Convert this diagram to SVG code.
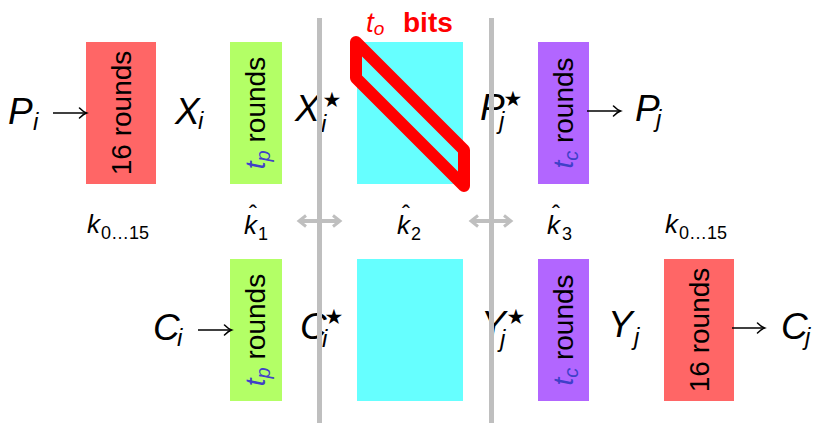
<svg xmlns="http://www.w3.org/2000/svg" width="813" height="423" viewBox="0 0 813 423">
<style>
.bg{fill:#ffffff}
.red{fill:#ff6666}
.grn{fill:#b3ff66}
.cya{fill:#66ffff}
.pur{fill:#b266ff}
.m{font-family:"Liberation Sans",Arial,sans-serif;font-style:italic;font-size:37px;fill:#000}
.s{font-family:"Liberation Sans",Arial,sans-serif;font-style:italic;font-size:24px;fill:#000}
.star{font-family:"DejaVu Sans",sans-serif;font-style:normal;font-size:21px;fill:#000;text-anchor:middle}
.rt{font-family:"Liberation Sans",Arial,sans-serif;font-size:28px;fill:#000;text-anchor:middle}
.bl{fill:#4040c8;font-style:italic}
.k{font-family:"Liberation Sans",Arial,sans-serif;font-style:italic;font-size:26px;fill:#000}
.ks{font-family:"Liberation Sans",Arial,sans-serif;font-style:normal;font-size:18px;fill:#000}
.hat{font-style:normal;font-size:24px;text-anchor:middle}
.sep{stroke:#bfbfbf;stroke-width:5;fill:none}
.arr{stroke:#000;stroke-width:1.6;fill:none}
.garr{stroke:#bfbfbf;stroke-width:4;fill:none}
.hl{stroke:#ff0000;stroke-width:12;fill:none;stroke-linejoin:round}
.lbl{font-family:"Liberation Sans",Arial,sans-serif;fill:#ff0000}
</style>
<defs>
<marker id="ah" markerUnits="userSpaceOnUse" markerWidth="12" markerHeight="12" viewBox="-8 -6 10 12" refX="0" refY="0" orient="auto">
<path d="M -7,-5 Q -3,-1 0,0 Q -3,1 -7,5" stroke="#000" stroke-width="1.5" fill="none" stroke-linecap="round"/>
</marker>
<marker id="gh" markerUnits="userSpaceOnUse" markerWidth="14" markerHeight="14" viewBox="-9 -7 11 14" refX="0" refY="0" orient="auto-start-reverse">
<path d="M -7,-5.5 L 0,0 L -7,5.5" stroke="#bfbfbf" stroke-width="3" fill="none" stroke-linejoin="miter"/>
</marker>
</defs>
<rect class="bg" x="0" y="0" width="813" height="423"/>

<g id="enc16-top">
<rect class="red" x="86" y="42" width="70" height="142"/>
<text class="rt" transform="translate(130.5,113) rotate(-90)">16 rounds</text>
</g>
<g id="tp-top">
<rect class="grn" x="230" y="42" width="52" height="142"/>
<text class="rt" transform="translate(265,113) rotate(-90)"><tspan class="bl">t</tspan><tspan class="bl" font-size="20" dy="5">p</tspan><tspan dy="-5"> rounds</tspan></text>
</g>
<g id="mid-top">
<rect class="cya" x="357" y="42" width="106" height="142"/>
</g>
<g id="tc-top">
<rect class="pur" x="538" y="42" width="51" height="142"/>
<text class="rt" transform="translate(572.5,113) rotate(-90)"><tspan class="bl">t</tspan><tspan class="bl" font-size="20" dy="5">c</tspan><tspan dy="-5"> rounds</tspan></text>
</g>
<g id="tp-bot">
<rect class="grn" x="230" y="259" width="52" height="142"/>
<text class="rt" transform="translate(265,330) rotate(-90)"><tspan class="bl">t</tspan><tspan class="bl" font-size="20" dy="5">p</tspan><tspan dy="-5"> rounds</tspan></text>
</g>
<g id="mid-bot">
<rect class="cya" x="357" y="259" width="106" height="142"/>
</g>
<g id="tc-bot">
<rect class="pur" x="538" y="259" width="51" height="142"/>
<text class="rt" transform="translate(572.5,330) rotate(-90)"><tspan class="bl">t</tspan><tspan class="bl" font-size="20" dy="5">c</tspan><tspan dy="-5"> rounds</tspan></text>
</g>
<g id="enc16-bot">
<rect class="red" x="664" y="259" width="70" height="142"/>
<text class="rt" transform="translate(708.5,330) rotate(-90)">16 rounds</text>
</g>

<g id="label-Pi"><text class="m" x="8" y="124">P<tspan class="s" x="33" y="130">i</tspan></text></g>
<g id="label-Xi"><text class="m" x="175" y="124">X<tspan class="s" x="198" y="129">i</tspan></text></g>
<g id="label-Xistar"><text class="m" x="295" y="121">X<tspan class="s" x="321" y="132">i</tspan><tspan class="star" x="332" y="107">★</tspan></text></g>
<g id="label-Pjstar"><text class="m" x="480" y="120">P<tspan class="s" x="499" y="129">j</tspan><tspan class="star" x="513" y="106">★</tspan></text></g>
<g id="label-Pj"><text class="m" x="635" y="121">P<tspan class="s" x="656" y="127">j</tspan></text></g>
<g id="label-Ci"><text class="m" x="153" y="340">C<tspan class="s" x="177" y="346">i</tspan></text></g>
<g id="label-Cistar"><text class="m" x="300" y="339">C<tspan class="s" x="322" y="347">i</tspan><tspan class="star" x="334" y="324">★</tspan></text></g>
<g id="label-Yjstar"><text class="m" x="481" y="337">Y<tspan class="s" x="500" y="347">j</tspan><tspan class="star" x="516" y="324">★</tspan></text></g>
<g id="label-Yj"><text class="m" x="608" y="337">Y<tspan class="s" x="634" y="345">j</tspan></text></g>
<g id="label-Cj"><text class="m" x="781" y="339">C<tspan class="s" x="805" y="345">j</tspan></text></g>

<g id="key-k015-left"><text class="k" x="87" y="233">k<tspan class="ks" x="101" y="239">0…15</tspan></text></g>
<g id="key-k1"><text class="k" x="244" y="234">k<tspan class="ks" x="258" y="240">1</tspan><tspan class="hat" x="253" y="222">ˆ</tspan></text></g>
<g id="key-k2"><text class="k" x="397" y="234">k<tspan class="ks" x="411" y="240">2</tspan><tspan class="hat" x="406" y="222">ˆ</tspan></text></g>
<g id="key-k3"><text class="k" x="547" y="234">k<tspan class="ks" x="562" y="240">3</tspan><tspan class="hat" x="556" y="222">ˆ</tspan></text></g>
<g id="key-k015-right"><text class="k" x="665" y="233">k<tspan class="ks" x="679" y="239">0…15</tspan></text></g>

<g id="separators">
<line class="sep" x1="319.5" y1="18" x2="319.5" y2="423"/>
<line class="sep" x1="491.5" y1="18" x2="491.5" y2="423"/>
</g>

<g id="connectors">
<line class="arr" x1="53" y1="113" x2="86.5" y2="113" marker-end="url(#ah)"/>
<line class="arr" x1="587" y1="111" x2="620.5" y2="111" marker-end="url(#ah)"/>
<line class="arr" x1="198" y1="330" x2="231.5" y2="330" marker-end="url(#ah)"/>
<line class="arr" x1="732" y1="328" x2="764.5" y2="328" marker-end="url(#ah)"/>
<line class="garr" x1="299" y1="221" x2="340" y2="221" marker-start="url(#gh)" marker-end="url(#gh)"/>
<line class="garr" x1="471" y1="221" x2="511" y2="221" marker-start="url(#gh)" marker-end="url(#gh)"/>
</g>

<g id="highlight">
<polygon class="hl" points="356,42 464,150 464,186 356,78"/>
<text class="lbl" x="366" y="32" font-size="28"><tspan font-style="italic">t</tspan><tspan font-style="italic" font-size="19" dy="3">o</tspan><tspan font-weight="bold" dy="-3" x="403">bits</tspan></text>
</g>
</svg>
